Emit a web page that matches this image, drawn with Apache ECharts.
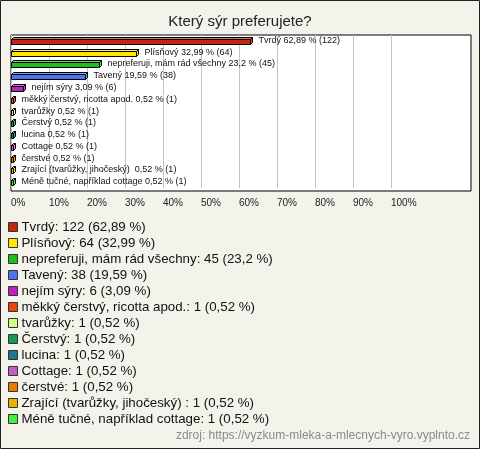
<!DOCTYPE html>
<html><head><meta charset="utf-8">
<script src="https://cdn.jsdelivr.net/npm/echarts@6/dist/echarts.min.js"></script>
<style>html,body{margin:0;padding:0;background:#f3f2eb}#c{width:480px;height:449px}</style>
</head><body><div id="c"></div>
<script>
const categories = ["Tvrdý","Plísňový","nepreferuji, mám rád všechny","Tavený","nejím sýry","měkký čerstvý, ricotta apod.","tvarůžky","Čerstvý","lucina","Cottage","čerstvé","Zrající (tvarůžky, jihočeský) ","Méně tučné, například cottage"];
const counts = [122,64,45,38,6,1,1,1,1,1,1,1,1];
const percents = [62.89,32.99,23.2,19.59,3.09,0.52,0.52,0.52,0.52,0.52,0.52,0.52,0.52];
const colors = ["#c0280f","#ffe600","#1dbd1d","#4c74f0","#c21fc2","#e8460c","#ccff88","#1a9a5a","#1f7890","#c060c0","#e87a00","#e8b000","#44ee44"];
const tickValues = [0,10,20,30,40,50,60,70,80,90,100];
const sourceText = "zdroj: https://vyzkum-mleka-a-mlecnych-vyro.vyplnto.cz";

const fmt = v => String(v).replace('.', ',');
const chart = echarts.init(document.getElementById('c'), null, {renderer:'canvas'});
const FONT = '"Liberation Sans", Arial, sans-serif';

function renderItem(params, api){
  const v = api.value(0), c = api.value(1);
  const p0 = api.coord([0, c]), p1 = api.coord([v, c]);
  const y = Math.round(p0[1]);
  const h = 5, d = 2;
  const top = y - 2 + 0.5, x0 = Math.round(p0[0]) + 0.5, x1 = Math.round(p1[0]) + 0.5;
  const col = api.visual('color');
  const light = echarts.color.lift(col, 0.35);
  const dark = echarts.color.lift(col, -0.35);
  const i = params.seriesIndex;
  const label = categories[i] + ' ' + fmt(percents[i]) + ' % (' + counts[i] + ')';
  return {type:'group', children:[
    {type:'polygon', shape:{points:[[x0,top],[x0+d,top-d],[x1+d,top-d],[x1,top]]}, style:{fill:light, stroke:'#000', lineWidth:1}},
    {type:'polygon', shape:{points:[[x1,top],[x1+d,top-d],[x1+d,top-d+h],[x1,top+h]]}, style:{fill:dark, stroke:'#000', lineWidth:1}},
    {type:'rect', shape:{x:x0, y:top, width:x1-x0, height:h}, style:{fill:col, stroke:'#000', lineWidth:1}},
    {type:'text', style:{text:label, x:x1+8, y:y, verticalAlign:'middle', align:'left', font:'9px ' + FONT, fill:'#111'}}
  ]};
}

const series = categories.map((name, i) => ({
  name: name,
  type: 'custom',
  xAxisIndex: 1, yAxisIndex: 1,
  itemStyle: {color: colors[i]},
  renderItem: renderItem,
  encode: {x: 0, y: 1},
  data: [[percents[i], i]],
  animation: false
}));

chart.setOption({
  backgroundColor: '#f3f2eb',
  animation: false,
  title: {text: 'Který sýr preferujete?', left: 'center', top: 9,
    textStyle: {fontFamily: FONT, fontSize: 15, fontWeight: 'normal', color: '#222'}},
  graphic: [
    {type:'rect', shape:{x:0.5, y:0.5, width:479, height:448}, style:{fill:null, stroke:'#222', lineWidth:1}, silent:true},
    {type:'text', right: 10, top: 430, style:{text: sourceText, font: '12px ' + FONT, fill:'#8a8a8a'}}
  ],
  grid: [
    {left: 11, top: 35, right: 9, height: 156, show: true, backgroundColor: '#fff', borderColor: '#000', borderWidth: 1},
    {left: 11, top: 35, width: 380, height: 153}
  ],
  xAxis: [
    {type:'value', gridIndex:0, show:false, min:0, max:1},
    {type:'value', gridIndex:1, min:0, max:100, interval:10,
      axisLine:{show:false}, axisTick:{show:false},
      splitLine:{show:true, lineStyle:{color:'#c4c4c4', width:1}},
      axisLabel:{formatter: v => tickValues.includes(v) ? v + '%' : '', align:'left', margin:10, fontSize:10, fontFamily:FONT, color:'#222'}}
  ],
  yAxis: [
    {type:'value', gridIndex:0, show:false, min:0, max:1},
    {type:'category', gridIndex:1, data: categories.map((c,i)=>i), inverse:true, show:false}
  ],
  legend: {
    orient:'vertical', left: 8, top: 220, padding: 0,
    itemWidth: 9, itemHeight: 9, itemGap: 2, icon: 'rect',
    itemStyle: {borderColor:'#333', borderWidth:1},
    data: categories,
    textStyle: {fontFamily: FONT, fontSize: 13.3, color: '#111', lineHeight: 14, padding:[0,0,0,-1]},
    formatter: name => { const i = categories.indexOf(name); return name + ': ' + counts[i] + ' (' + fmt(percents[i]) + ' %)'; },
    selectedMode: false
  },
  series: series
});
</script></body></html>
